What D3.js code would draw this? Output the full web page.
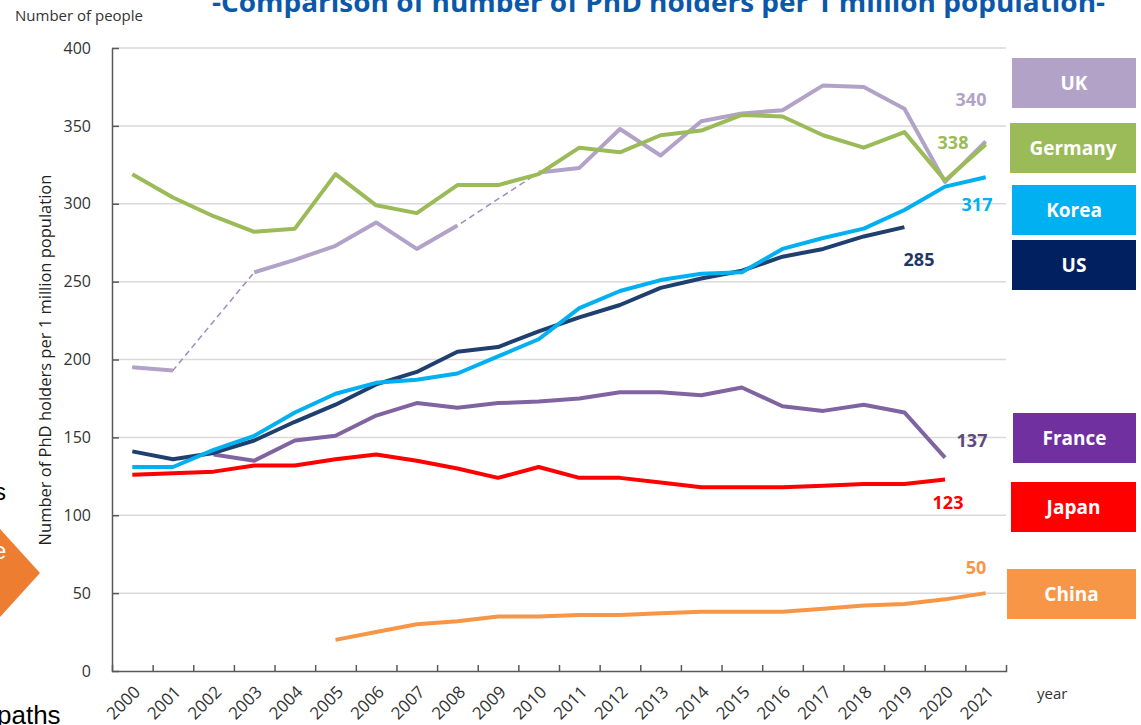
<!DOCTYPE html>
<html>
<head>
<meta charset="utf-8">
<script src="https://cdn.jsdelivr.net/npm/d3@7"></script>
<style>
  body { margin: 0; background: #fff; }
  svg { display: block; font-family: "Open Sans", "Noto Sans", sans-serif; }
</style>
</head>
<body>
<div id="chart"></div>
<script>
// data
var years = d3.range(2000, 2022);

var ukValues      = [195, 193, null, 256, 264, 273, 288, 271, 286, null, 320, 323, 348, 331, 353, 358, 360, 376, 375, 361, 314, 340];
var germanyValues = [319, 304, 292, 282, 284, 319, 299, 294, 312, 312, 319, 336, 333, 344, 347, 357, 356, 344, 336, 346, 315, 338];
var koreaValues   = [131, 131, 142, 151, 166, 178, 185, 187, 191, 202, 213, 233, 244, 251, 255, 256, 271, 278, 284, 296, 311, 317];
var usValues      = [141, 136, 140, 148, 160, 171, 184, 192, 205, 208, 218, 227, 235, 246, 252, 257, 266, 271, 279, 285, null, null];
var franceValues  = [null, null, 139, 135, 148, 151, 164, 172, 169, 172, 173, 175, 179, 179, 177, 182, 170, 167, 171, 166, 137, null];
var japanValues   = [126, 127, 128, 132, 132, 136, 139, 135, 130, 124, 131, 124, 124, 121, 118, 118, 118, 119, 120, 120, 123, null];
var chinaValues   = [null, null, null, null, null, 20, 25, 30, 32, 35, 35, 36, 36, 37, 38, 38, 38, 40, 42, 43, 46, 50];

var seriesNames = ["UK", "Germany", "Korea", "US", "France", "Japan", "China"];
var endLabels   = ["340", "338", "317", "285", "137", "123", "50"];
var yTicks      = [0, 50, 100, 150, 200, 250, 300, 350, 400];

var svgWidth = 1141;
var svgHeight = 725;

var margin = { top: 48, right: 135, bottom: 54, left: 112 };

var svg = d3.select("#chart")
  .append("svg")
  .attr("width", svgWidth)
  .attr("height", svgHeight);

// scales
var x = d3.scaleBand()
  .domain(years)
  .range([margin.left, svgWidth - margin.right])
  .padding(0);

var xIdx = d3.scaleLinear()
  .domain([0, years.length])
  .range([margin.left, svgWidth - margin.right]);

var y = d3.scaleLinear()
  .domain([0, 400])
  .range([svgHeight - margin.bottom, margin.top]);

function cx(i) { return x(years[i]) + x.bandwidth() / 2; }

// slide leftovers on the left edge
svg.append("text").attr("x", -6).attr("y", 500).attr("font-size", 24).attr("fill", "#000")
  .attr("font-family", "Liberation Sans, sans-serif").text("s");
svg.append("polygon")
  .attr("points", "0,529 40,573 0,617")
  .attr("fill", "#ED7D31");
svg.append("text").attr("x", -7).attr("y", 559).attr("font-size", 24).attr("fill", "#fff")
  .attr("font-family", "Liberation Sans, sans-serif").text("e");
svg.append("text").attr("x", -3).attr("y", 724).attr("font-size", 26).attr("fill", "#000")
  .attr("font-family", "Liberation Sans, sans-serif").text("paths");

// title (top is cut off in the source)
svg.append("text")
  .attr("x", 212)
  .attr("y", 12)
  .attr("font-size", 27)
  .attr("font-weight", "bold")
  .attr("fill", "#0B58A8")
  .attr("textLength", 893)
  .attr("lengthAdjust", "spacingAndGlyphs")
  .text("-Comparison of number of PhD holders per 1 million population-");

svg.append("text")
  .attr("x", 15)
  .attr("y", 21)
  .attr("font-size", 15)
  .attr("fill", "#333")
  .text("Number of people");

// gridlines
svg.append("g")
  .selectAll("line")
  .data(yTicks.filter(d => d > 0))
  .enter()
  .append("line")
  .attr("x1", margin.left)
  .attr("x2", svgWidth - margin.right)
  .attr("y1", d => y(d))
  .attr("y2", d => y(d))
  .attr("stroke", "#d9d9d9")
  .attr("stroke-width", 1.5);

// y axis
var yAxis = svg.append("g")
  .attr("transform", `translate(${margin.left},0)`)
  .call(d3.axisLeft(y).tickValues(yTicks).tickSizeInner(-7).tickSizeOuter(0).tickPadding(21));
yAxis.select(".domain").attr("stroke", "#595959").attr("stroke-width", 1.5);
yAxis.selectAll(".tick line").attr("stroke", "#595959").attr("stroke-width", 1.5);
yAxis.selectAll("text").attr("font-size", 16).attr("fill", "#333")
  .attr("font-family", "Open Sans, sans-serif");

// x axis: ticks between years
var xTickAxis = svg.append("g")
  .attr("transform", `translate(0,${svgHeight - margin.bottom})`)
  .call(d3.axisBottom(xIdx).tickValues(d3.range(1, years.length)).tickSizeInner(-6).tickSizeOuter(-6).tickFormat(""));
xTickAxis.select(".domain").attr("stroke", "#595959").attr("stroke-width", 1.5);
xTickAxis.selectAll(".tick line").attr("stroke", "#595959").attr("stroke-width", 1.5);

// x axis: year labels
var xLabelAxis = svg.append("g")
  .attr("transform", `translate(0,${svgHeight - margin.bottom})`)
  .call(d3.axisBottom(x).tickSize(0));
xLabelAxis.select(".domain").remove();
xLabelAxis.selectAll("text")
  .attr("x", 0).attr("y", 0).attr("dy", 0)
  .attr("text-anchor", "end")
  .attr("transform", "translate(9,22) rotate(-45)")
  .attr("font-size", 17)
  .attr("fill", "#333")
  .attr("font-family", "Open Sans, sans-serif");

svg.append("text")
  .attr("x", 1037)
  .attr("y", 699)
  .attr("font-size", 15)
  .attr("fill", "#333")
  .text("year");

// y axis title
svg.append("text")
  .attr("transform", "translate(51,360) rotate(-90)")
  .attr("text-anchor", "middle")
  .attr("font-size", 16.5)
  .attr("fill", "#222")
  .text("Number of PhD holders per 1 million population");

// lines
var allValues = [ukValues, germanyValues, koreaValues, usValues, franceValues, japanValues, chinaValues];
var lineColors = ["#B3A2C7", "#9BBB59", "#00B0F0", "#1F3F6E", "#8064A2", "#FF0000", "#F79646"];
var labelColors = ["#B3A2C7", "#9BBB59", "#00B0F0", "#1F3864", "#604A7B", "#FF0000", "#F79646"];
var boxColors = ["#B3A2C7", "#9BBB59", "#00B0F0", "#002060", "#7030A0", "#FF0000", "#F79646"];

var line = d3.line()
  .defined(d => d != null)
  .x((d, i) => cx(i))
  .y(d => y(d));

// UK gaps drawn as thin dashes
var ukPoints = ukValues.map((v, i) => [i, v]).filter(p => p[1] != null);
svg.append("path")
  .attr("d", d3.line().x(p => cx(p[0])).y(p => y(p[1]))(ukPoints))
  .attr("fill", "none")
  .attr("stroke", "#9F8CBD")
  .attr("stroke-width", 1.5)
  .attr("stroke-dasharray", "6,4");

// draw order: China, Japan, France, UK, Germany, US, Korea
var drawOrder = [6, 5, 4, 0, 1, 3, 2];
drawOrder.forEach(function(k) {
  svg.append("path")
    .attr("d", line(allValues[k]))
    .attr("fill", "none")
    .attr("stroke", lineColors[k])
    .attr("stroke-width", 4)
    .attr("stroke-linejoin", "round");
});

// end value labels
var labelPos = [[971, 100], [953, 143], [977, 205], [919, 260], [972, 441], [948, 503], [976, 568]];
endLabels.forEach(function(t, k) {
  svg.append("text")
    .attr("x", labelPos[k][0])
    .attr("y", labelPos[k][1])
    .attr("dy", "0.35em")
    .attr("text-anchor", "middle")
    .attr("font-size", 18)
    .attr("font-weight", "bold")
    .attr("fill", labelColors[k])
    .text(t);
});

// legend boxes
var boxPos = [[1012, 58], [1010, 123], [1012, 185], [1012, 240], [1013, 413], [1011, 482], [1007, 569]];
seriesNames.forEach(function(name, k) {
  var g = svg.append("g").attr("transform", `translate(${boxPos[k][0]},${boxPos[k][1]})`);
  var w = 1136 - boxPos[k][0];
  g.append("rect")
    .attr("width", w)
    .attr("height", 50)
    .attr("fill", boxColors[k]);
  g.append("text")
    .attr("x", w / 2)
    .attr("y", 25)
    .attr("dy", "0.35em")
    .attr("text-anchor", "middle")
    .attr("font-size", 19)
    .attr("font-weight", "bold")
    .attr("fill", "#fff")
    .text(name);
});
</script>
</body>
</html>
